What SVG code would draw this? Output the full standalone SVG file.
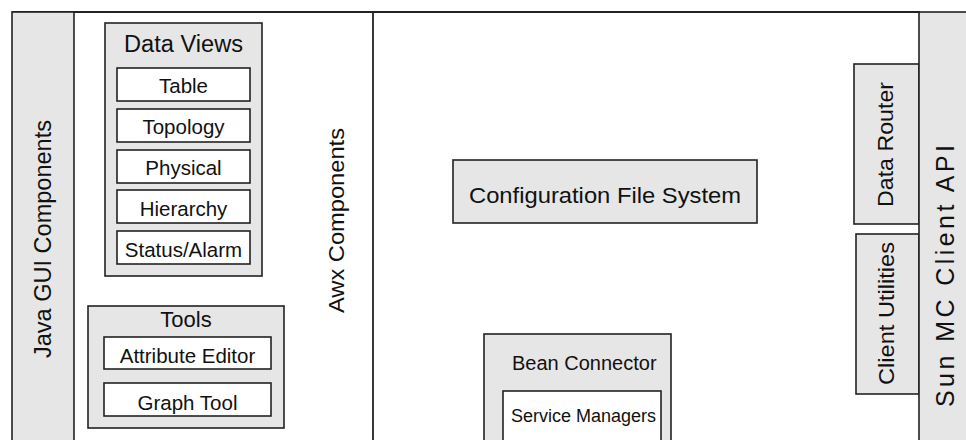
<svg xmlns="http://www.w3.org/2000/svg" width="966" height="440" viewBox="0 0 966 440">
  <style>
    .panel { fill: #e6e6e6; stroke: #222; stroke-width: 1.6; }
    .item { fill: #ffffff; stroke: #222; stroke-width: 1.6; }
    .rule { stroke: #222; stroke-width: 1.8; fill: none; }
    text { font-family: "Liberation Sans", Arial, sans-serif; fill: #111; }
    .t { font-size: 22px; }
    .s { font-size: 20.5px; }
    .mid { text-anchor: middle; }
  </style>

  <rect x="0" y="0" width="966" height="440" fill="#ffffff"/>

  <!-- frame rules -->
  <g id="connectors">
    <line class="rule" x1="12" y1="12" x2="920" y2="12"/>
    <line class="rule" x1="373" y1="12" x2="373" y2="445"/>
  </g>

  <!-- left column -->
  <g id="java-gui">
    <rect class="panel" x="12" y="12" width="62" height="440"/>
    <text class="mid" transform="translate(51,239) rotate(-90)" style="font-size:23px" textLength="238" lengthAdjust="spacingAndGlyphs">Java GUI Components</text>
  </g>

  <g id="awx">
    <text class="t mid" transform="translate(344,220.5) rotate(-90)" textLength="185" lengthAdjust="spacingAndGlyphs">Awx Components</text>
  </g>

  <!-- data views -->
  <g id="data-views">
    <rect class="panel" x="105" y="23" width="157" height="253"/>
    <text class="mid" x="183.5" y="52" style="font-size:23px" textLength="119" lengthAdjust="spacingAndGlyphs">Data Views</text>
  </g>
  <g id="table">
    <rect class="item" x="117" y="68" width="133" height="33"/>
    <text class="s mid" x="183.5" y="93">Table</text>
  </g>
  <g id="topology">
    <rect class="item" x="117" y="109" width="133" height="33"/>
    <text class="s mid" x="183.5" y="134">Topology</text>
  </g>
  <g id="physical">
    <rect class="item" x="117" y="150" width="133" height="33"/>
    <text class="s mid" x="183.5" y="175">Physical</text>
  </g>
  <g id="hierarchy">
    <rect class="item" x="117" y="190" width="133" height="33"/>
    <text class="s mid" x="183.5" y="215.5">Hierarchy</text>
  </g>
  <g id="status-alarm">
    <rect class="item" x="117" y="231" width="133" height="33"/>
    <text class="s mid" x="183.5" y="256.5">Status/Alarm</text>
  </g>

  <!-- tools -->
  <g id="tools">
    <rect class="panel" x="88" y="306" width="196" height="122"/>
    <text class="t mid" x="186" y="327">Tools</text>
  </g>
  <g id="attribute-editor">
    <rect class="item" x="104" y="337" width="167" height="32"/>
    <text class="s mid" x="187.5" y="362.5">Attribute Editor</text>
  </g>
  <g id="graph-tool">
    <rect class="item" x="104" y="383" width="167" height="33"/>
    <text class="s mid" x="187.5" y="410">Graph Tool</text>
  </g>

  <!-- centre -->
  <g id="config-fs">
    <rect class="panel" x="453" y="160" width="304" height="63"/>
    <text class="t mid" x="605" y="203" textLength="272" lengthAdjust="spacingAndGlyphs">Configuration File System</text>
  </g>
  <g id="bean-connector">
    <rect class="panel" x="484" y="334" width="187" height="120"/>
    <text class="s" x="512" y="370" style="font-size:20px">Bean Connector</text>
  </g>
  <g id="service-managers">
    <rect class="item" x="503" y="391" width="158" height="60"/>
    <text class="s" x="511" y="422" style="font-size:18px">Service Managers</text>
  </g>

  <!-- right side -->
  <g id="data-router">
    <rect class="panel" x="854" y="64" width="65" height="160"/>
    <text class="t mid" transform="translate(893,144.5) rotate(-90)" textLength="125" lengthAdjust="spacingAndGlyphs">Data Router</text>
  </g>
  <g id="client-utilities">
    <rect class="panel" x="856" y="234" width="63" height="160"/>
    <text class="t mid" transform="translate(894,313.5) rotate(-90)" textLength="143" lengthAdjust="spacingAndGlyphs">Client Utilities</text>
  </g>
  <g id="sun-mc-api">
    <rect class="panel" x="919" y="12" width="60" height="440"/>
    <text class="mid" transform="translate(954,276) rotate(-90)" style="font-size:25px" textLength="262" lengthAdjust="spacing">Sun MC Client API</text>
  </g>
</svg>
